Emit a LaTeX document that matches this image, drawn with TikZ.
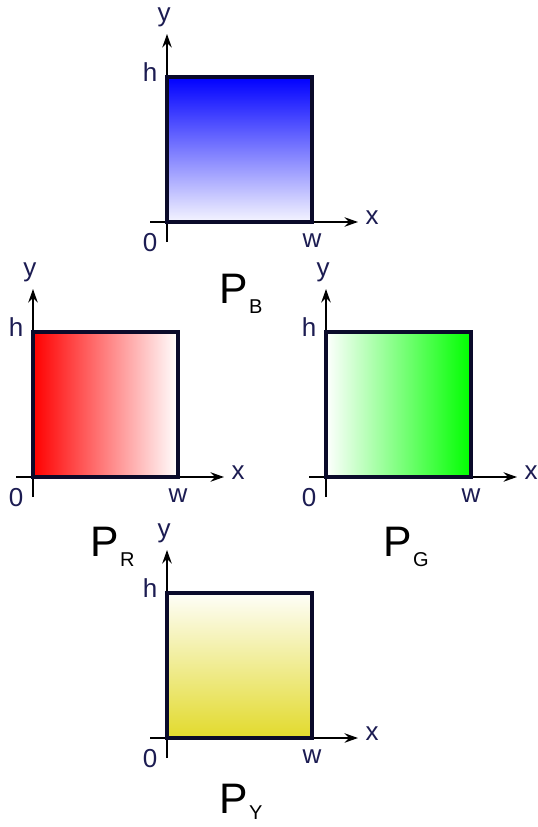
\documentclass[tikz,border=0pt]{standalone}
\usepackage{fontspec}
\setmainfont{Liberation Sans}
\usetikzlibrary{arrows.meta}
\definecolor{lab}{HTML}{1C1C52}
\definecolor{frame}{HTML}{0A0A2A}
\definecolor{ylw}{HTML}{E2DA2C}
\definecolor{grn}{HTML}{00FF00}
\tikzset{
  axis/.style={line width=1.5pt,-{Stealth[length=10pt,width=7pt]}},
  boxframe/.style={draw=frame,line width=2.6pt},
  alab/.style={text=lab,font=\fontsize{19.5}{20}\selectfont,inner sep=0pt},
  plab/.style={font=\fontsize{32}{32}\selectfont,inner sep=0pt,anchor=base west},
}
\newcommand{\mypanel}[4]{%
  % #1 name, #2 origin x, #3 origin y, #4 shading options
  \begin{scope}[shift={(#2,#3)}]
    \coordinate (#1o) at (0,0);
    \coordinate (#1xs) at (-17,0);
    \coordinate (#1xe) at (191,0);
    \coordinate (#1ys) at (0,20);
    \coordinate (#1ye) at (0,-188);
    \coordinate (#1c) at (145,-145);
    \shade[#4] (#1o) rectangle (#1c);
    \draw[axis] (#1xs) -- (#1xe);
    \draw[axis] (#1ys) -- (#1ye);
    \draw[boxframe] (#1o) rectangle (#1c);
    \node[alab] (#1y) at (-3,-205) {y};
    \node[alab] (#1h) at (-17,-150) {h};
    \node[alab] (#1zero) at (-17,21) {0};
    \node[alab] (#1w) at (145,19) {w};
    \node[alab] (#1x) at (205,-4) {x};
  \end{scope}}
\begin{document}
\begin{tikzpicture}[x=0.75pt,y=-0.75pt]
\useasboundingbox (0,0) rectangle (537,827);
\mypanel{b}{167}{222}{top color=blue,bottom color=blue!4}
\mypanel{r}{33}{477}{left color=red,right color=white}
\mypanel{g}{326}{477}{left color=white,right color=grn}
\mypanel{yl}{167}{738}{top color=ylw!3,bottom color=ylw}
\node[plab] (pb) at (219,303) {P\kern1pt\raisebox{-8pt}{\fontsize{15}{15}\selectfont B}};
\node[plab] (pr) at (90,556) {P\kern1pt\raisebox{-8pt}{\fontsize{15}{15}\selectfont R}};
\node[plab] (pg) at (383,556) {P\kern1pt\raisebox{-8pt}{\fontsize{15}{15}\selectfont G}};
\node[plab] (py) at (219,813) {P\kern1pt\raisebox{-5pt}{\fontsize{15}{15}\selectfont Y}};
\end{tikzpicture}
\end{document}
